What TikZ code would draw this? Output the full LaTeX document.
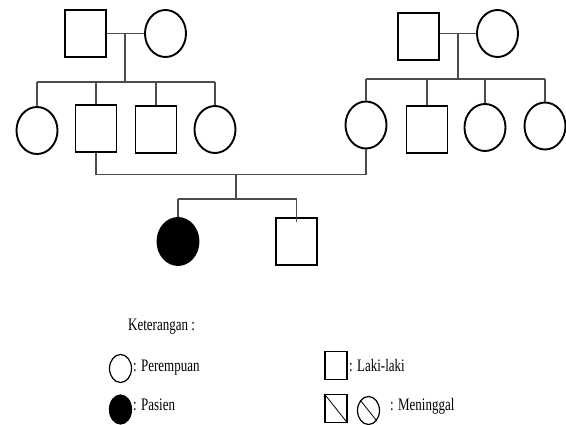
\documentclass[tikz,border=0pt]{standalone}
\usepackage{fontspec}
\setmainfont{Liberation Serif}
\usetikzlibrary{shapes.geometric}
\begin{document}
\begin{tikzpicture}[x=1pt,y=-1pt,
  ind/.style={draw=black, line width=1.9pt, inner sep=0, minimum width=41pt, minimum height=47pt},
  male/.style={ind, rectangle},
  female/.style={ind, ellipse},
  link/.style={draw=black!70, line width=1.1pt},
  lgd/.style={draw=black, line width=1.2pt, inner sep=0, minimum width=22pt, minimum height=28pt},
  lbl/.style={inner sep=0, anchor=base west, font=\fontsize{13}{15}\selectfont}
]
\useasboundingbox (0,0) rectangle (566,425);
% generation I
\node[male] (F1) at (85.5,33.5) {};
\node[female] (M1) at (165.5,33.5) {};
\node[male] (F2) at (418.5,36.5) {};
\node[female] (M2) at (497.5,33.5) {};
% generation II
\node[female] (A1) at (37,130.5) {};
\node[male] (A2) at (96,128.5) {};
\node[male] (A3) at (156,129.5) {};
\node[female] (A4) at (215,129.5) {};
\node[female] (B1) at (366,125) {};
\node[male] (B2) at (427,129.5) {};
\node[female] (B3) at (485,127.5) {};
\node[female] (B4) at (545,126) {};
% generation III
\node[female, fill=black] (P) at (178,241.5) {};
\node[male] (S) at (296.5,241.5) {};
% connectors left family
\draw[link] (F1.east) -- (M1.west);
\coordinate (d1) at (125,33.5);
\coordinate (s1) at (125,82);
\draw[link] (d1) -- (s1);
\draw[link] (A1.north |- s1) -- (A4.north |- s1);
\foreach \n in {A1,A2,A3,A4} \draw[link] (\n.north) -- (\n.north |- s1);
% connectors right family
\draw[link] (F2.east |- M2.west) -- (M2.west);
\coordinate (d2) at (458,33.5);
\coordinate (s2) at (458,79);
\draw[link] (d2) -- (s2);
\draw[link] (B1.north |- s2) -- (B4.north |- s2);
\foreach \n in {B1,B2,B3,B4} \draw[link] (\n.north) -- (\n.north |- s2);
% marriage and children
\coordinate (u) at (236,174.5);
\coordinate (k) at (236,199);
\draw[link] (A2.south) |- (u) -| (B1.south);
\draw[link] (u) -- (k);
\draw[link] (P.north |- k) -- (S.north |- k);
\draw[link] (P.north) -- (P.north |- k);
\draw[link] (S.north |- k) -- ([yshift=-5pt]S.north);
% legend
\node[lbl] (ket) at (128,331) {\scalebox{1}[1.35]{Keterangan :}};
\node[lgd, ellipse] (lf) at (120.5,368.5) {};
\node[lbl] (tf) at (133,372) {\scalebox{1}[1.35]{: Perempuan}};
\node[lgd, ellipse, fill=black, minimum height=29pt] (lp) at (120.5,409.5) {};
\node[lbl] (tp) at (133,410) {\scalebox{1}[1.35]{: Pasien}};
\node[lgd, rectangle] (lm) at (336,365.5) {};
\node[lbl] (tm) at (349,372) {\scalebox{1}[1.35]{: Laki-laki}};
\node[lgd, rectangle] (ld) at (336,408.5) {};
\draw[line width=0.8pt] (ld.north west) -- (ld.south east);
\node[lgd, ellipse] (lc) at (368.5,410.5) {};
\draw[line width=0.8pt] (lc.north west) -- (lc.south east);
\node[lbl] (td) at (390,410) {\scalebox{1}[1.35]{: Meninggal}};
\end{tikzpicture}
\end{document}
